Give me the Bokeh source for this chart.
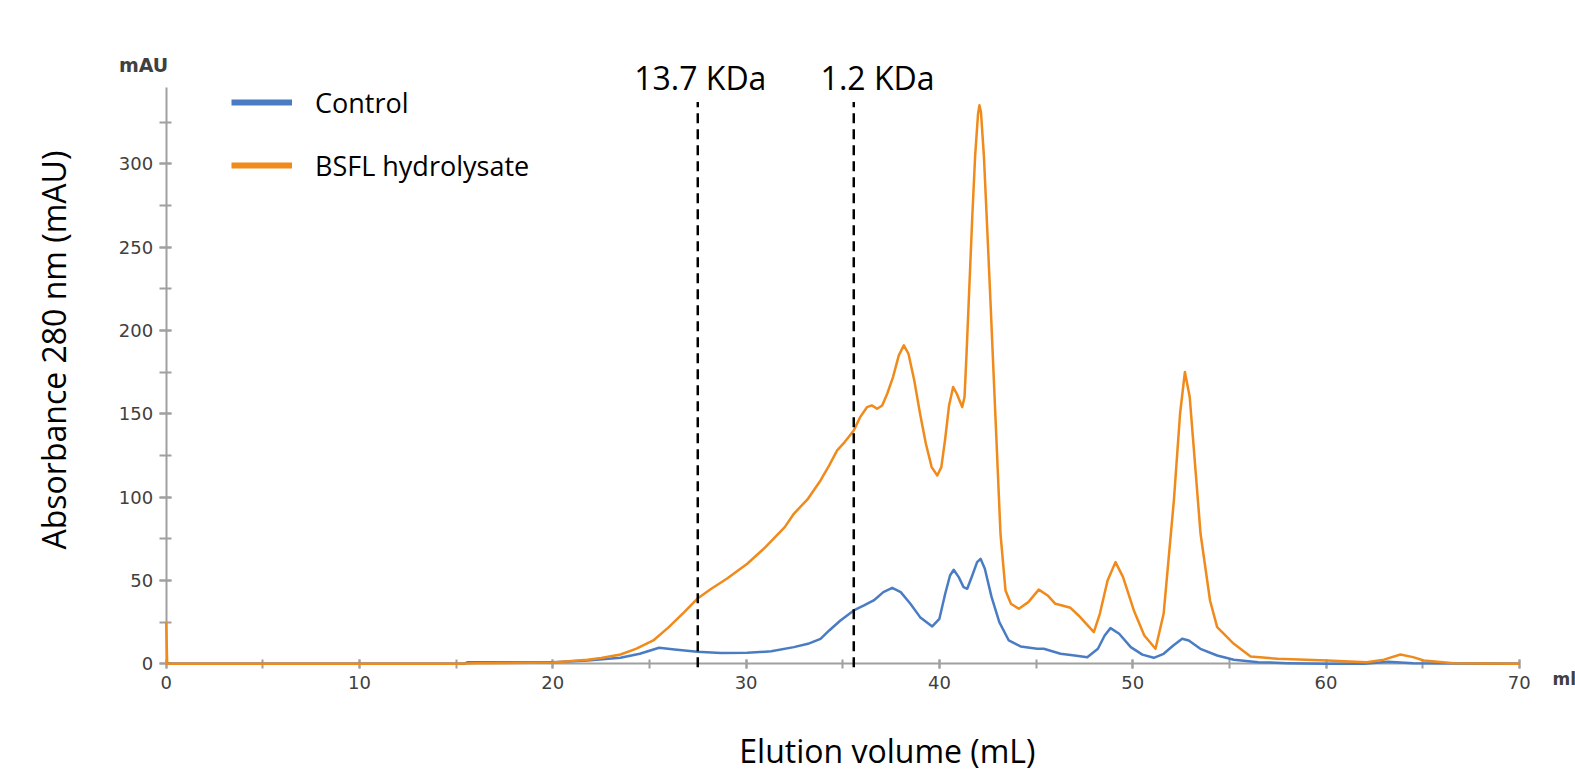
import math
from bokeh.plotting import figure
from bokeh.models import (Range1d, SingleIntervalTicker, Label, Legend, LegendItem, LinearAxis)
from bokeh.embed import file_html
from bokeh.resources import INLINE

# ---------------- data ----------------
ctrl_x = [0, 15.4, 15.6, 20, 21.8, 23.5, 24.5, 25.5, 26.3, 27.47, 28.7, 30.06, 31.3, 32.47,
          33.2, 33.85, 34.3, 34.88, 35.57, 36.1, 36.6, 37.1, 37.56, 38.0, 38.5, 39.0, 39.63,
          40.0, 40.3, 40.55, 40.74, 41.0, 41.25, 41.44, 41.7, 41.95, 42.13, 42.35, 42.7,
          43.1, 43.59, 44.2, 45.06, 45.4, 46.27, 47.0, 47.65, 48.2, 48.55, 48.85, 49.3,
          49.9, 50.5, 51.09, 51.6, 52.1, 52.56, 52.9, 53.5, 54.37, 55.23, 56.5, 58, 60,
          62, 63.2, 64.5, 70]
ctrl_y = [0, 0, 1, 1, 2, 3.6, 6, 9.6, 8.6, 7.2, 6.5, 6.6, 7.5, 10,
          12, 15, 20, 26, 32, 35, 38, 43, 45.6, 43, 36, 28, 22.4,
          27, 42, 53, 56.4, 52, 46, 45, 53, 61, 63, 57, 40,
          25, 14, 10.4, 9, 9, 6, 5, 4, 9, 17, 21.4, 18,
          10, 5.5, 3.6, 6, 11, 15, 14, 9, 5, 2.4, 1, 0.4, 0,
          0, 1.2, 0.3, 0]

bsfl_x = [0, 0.05, 15, 16, 20, 21.8, 22.5, 23.5, 24.3, 25.2, 26.0, 26.8, 27.47, 28.2, 29.0,
          30.06, 31.0, 32.0, 32.47, 33.2, 33.85, 34.3, 34.71, 35.1, 35.57, 35.9, 36.26,
          36.5, 36.78, 37.04, 37.3, 37.6, 37.9, 38.16, 38.4, 38.7, 39.0, 39.3, 39.6,
          39.89, 40.1, 40.3, 40.5, 40.71, 40.9, 41.18, 41.3, 41.4, 41.52, 41.7, 41.85,
          42.0, 42.07, 42.15, 42.3, 42.47, 42.64, 42.9, 43.16, 43.42, 43.7, 44.11, 44.6,
          45.14, 45.6, 46.0, 46.35, 46.78, 47.2, 47.6, 47.99, 48.3, 48.7, 49.11, 49.5,
          50.06, 50.6, 51.18, 51.6, 52.13, 52.45, 52.7, 52.95, 53.51, 54.0, 54.37, 55.23,
          56.1, 57.5, 60.06, 62.1, 63.0, 63.85, 64.5, 65.06, 66.6, 68, 70]
bsfl_y = [25, 0, 0, 0.3, 0.8, 2.4, 3.5, 5.6, 9, 14, 22, 31, 39, 45, 51,
          60, 70, 82, 90, 99, 110, 119, 128, 133, 140, 148, 154,
          155, 153, 155, 162, 172, 185, 191, 186, 170, 150, 132, 118,
          113, 118, 135, 155, 166, 162, 154, 160, 185, 218, 268, 305,
          330, 335, 331, 305, 262, 218, 148, 78, 44, 36, 33, 37,
          44.5, 41, 36, 35, 33.6, 29, 24, 19, 30, 50, 61, 52,
          32, 17, 9, 30, 98, 150, 175, 160, 78, 38, 22, 12,
          4.4, 3, 2, 1, 2.5, 5.6, 4, 2, 0.4, 0.2, 0]

series_names = ["Control", "BSFL hydrolysate"]
kda_lines_x = [27.5, 35.57]
kda_text = ["13.7 KDa", "1.2 KDa"]
kda_text_x = [27.63, 36.8]

BLUE = "#4a7cc4"
ORANGE = "#f08a1a"
AXIS = "#a0a0a0"
TICKTXT = "#404040"

W, H = 1575, 771
p = figure(width=W, height=H, output_backend="svg", toolbar_location=None,
           x_axis_location=None, y_axis_location=None,
           x_range=Range1d(-8.572, 72.907), y_range=Range1d(-64.6, 397.9),
           min_border=0, min_border_left=0, min_border_right=0,
           min_border_top=0, min_border_bottom=0)
p.outline_line_color = None
p.grid.visible = False
p.background_fill_color = "white"
p.border_fill_color = "white"

# axes crossing at the origin
xaxis = LinearAxis(fixed_location=0)
yaxis = LinearAxis(fixed_location=0)
p.add_layout(xaxis, "below")
p.add_layout(yaxis, "left")

for ax, interval, bnd in ((xaxis, 10, (0, 70)), (yaxis, 50, (0, 346))):
    ax.ticker = SingleIntervalTicker(interval=interval, num_minor_ticks=2)
    ax.bounds = bnd
    ax.level = "underlay"
    ax.axis_line_color = AXIS
    ax.axis_line_width = 2
    ax.major_tick_line_color = AXIS
    ax.minor_tick_line_color = AXIS
    ax.major_tick_line_width = 2
    ax.minor_tick_line_width = 2
    ax.major_label_text_color = TICKTXT
    ax.major_label_text_font = "DejaVu Sans"
    ax.major_label_text_font_size = "18px"
yaxis.major_tick_in = 5
yaxis.major_tick_out = 7
yaxis.minor_tick_in = 5
yaxis.minor_tick_out = 7
yaxis.major_label_standoff = 6
xaxis.major_tick_in = 4
xaxis.major_tick_out = 5
xaxis.minor_tick_in = 4
xaxis.minor_tick_out = 5
xaxis.major_label_standoff = 7

# curves
r_ctrl = p.line(ctrl_x, ctrl_y, line_color=BLUE, line_width=2.5, line_join="round")
r_bsfl = p.line(bsfl_x, bsfl_y, line_color=ORANGE, line_width=2.5, line_join="round")

# dashed marker lines and their labels
p.segment(x0=kda_lines_x, y0=[-2] * len(kda_lines_x), x1=kda_lines_x,
          y1=[337] * len(kda_lines_x), line_color="black", line_width=2.5,
          line_dash="10 6")
for tx, tt in zip(kda_text_x, kda_text):
    p.add_layout(Label(x=tx, y=351.5, text=tt, text_align="center",
                       text_baseline="alphabetic", text_font="Open Sans",
                       text_font_size="32px", text_color="black"))

# legend (thick sample lines)
nan = float("nan")
lg_ctrl = p.line([nan], [nan], line_color=BLUE, line_width=6)
lg_bsfl = p.line([nan], [nan], line_color=ORANGE, line_width=6)
legend = Legend(items=[LegendItem(label=series_names[0], renderers=[lg_ctrl]),
                       LegendItem(label=series_names[1], renderers=[lg_bsfl])],
                location=(231, 586), orientation="vertical",
                glyph_width=61, glyph_height=40, label_height=40,
                label_standoff=23, spacing=23, padding=0, margin=0,
                border_line_color=None, background_fill_alpha=0,
                label_text_font="Open Sans", label_text_font_size="27px",
                label_text_color="black")
p.add_layout(legend, "center")

# unit labels
p.add_layout(Label(x=-1.17, y=359.5, text="mAU", text_align="center",
                   text_baseline="middle", text_font="DejaVu Sans",
                   text_font_size="19px", text_font_style="bold", text_color=TICKTXT))
p.add_layout(Label(x=71.72, y=-9.4, text="ml", text_align="left",
                   text_baseline="middle", text_font="DejaVu Sans",
                   text_font_size="17px", text_font_style="bold", text_color=TICKTXT))

# axis titles
p.add_layout(Label(x=-5.85, y=188.2, text="Absorbance 280 nm (mAU)", angle=math.pi / 2,
                   text_align="center", text_baseline="middle", text_font="Open Sans",
                   text_font_size="32px", text_color="black"))
p.add_layout(Label(x=37.31, y=-51.8, text="Elution volume (mL)", text_align="center",
                   text_baseline="alphabetic", text_font="Open Sans",
                   text_font_size="32px", text_color="black"))

open("out.html", "w").write(file_html(p, INLINE))
